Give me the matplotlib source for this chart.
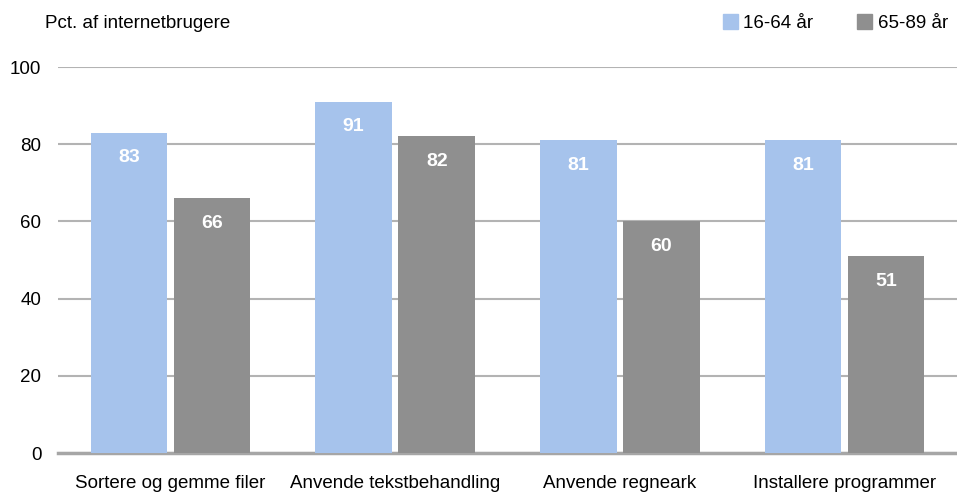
import matplotlib.pyplot as plt
import numpy as np
from matplotlib.patches import Patch

categories = ['Sortere og gemme filer', 'Anvende tekstbehandling', 'Anvende regneark', 'Installere programmer']
series_names = ['16-64 år', '65-89 år']
young = [83, 91, 81, 81]
old = [66, 82, 60, 51]
yticks = [0, 20, 40, 60, 80, 100]

plt.rcParams['font.family'] = ['Liberation Sans', 'DejaVu Sans']

c_young = '#a6c3ec'
c_old = '#8f8f8f'

fig = plt.figure(figsize=(9.57, 4.97), dpi=100)
ax = fig.add_axes([58 / 957, 44 / 497, 899 / 957, 386 / 497])

x = np.arange(len(categories))
w = 0.34
gap = 0.03
b1 = ax.bar(x - w / 2 - gap / 2, young, w, color=c_young, zorder=3)
b2 = ax.bar(x + w / 2 + gap / 2, old, w, color=c_old, zorder=3)

# value labels inside the top of each bar
for bars, vals in ((b1, young), (b2, old)):
    for b, v in zip(bars, vals):
        ax.text(b.get_x() + b.get_width() / 2, v - 6.5, str(v), ha='center', va='center',
                color='white', fontsize=14, fontweight='bold', zorder=4)

ax.set_xlim(-0.5, len(categories) - 0.5)
ax.set_ylim(0, 100)
ax.set_yticks(yticks)
ax.set_yticklabels([str(t) for t in yticks], fontsize=13.5)
ax.set_xticks(x)
ax.set_xticklabels(categories, fontsize=13.5)
ax.tick_params(axis='both', length=0)
ax.tick_params(axis='x', pad=16)
ax.tick_params(axis='y', pad=12)
for s in ['top', 'right', 'left']:
    ax.spines[s].set_visible(False)
ax.spines['bottom'].set_color('#a6a6a6')
ax.spines['bottom'].set_linewidth(2.5)
ax.yaxis.grid(True, color='#b3b3b3', linewidth=1.5, zorder=0)
ax.set_axisbelow(True)

fig.text(45 / 957, 1 - 23 / 497, 'Pct. af internetbrugere', fontsize=13.5, va='center', ha='left')

handles = [Patch(color=c_young), Patch(color=c_old)]
fig.legend(handles, series_names, loc='center right', bbox_to_anchor=(1.0085, 1 - 23 / 497),
           ncol=2, frameon=False, fontsize=13.5, handlelength=0.8, handleheight=0.8,
           handletextpad=0.3, columnspacing=2.35)

fig.savefig('out.png', dpi=100)
